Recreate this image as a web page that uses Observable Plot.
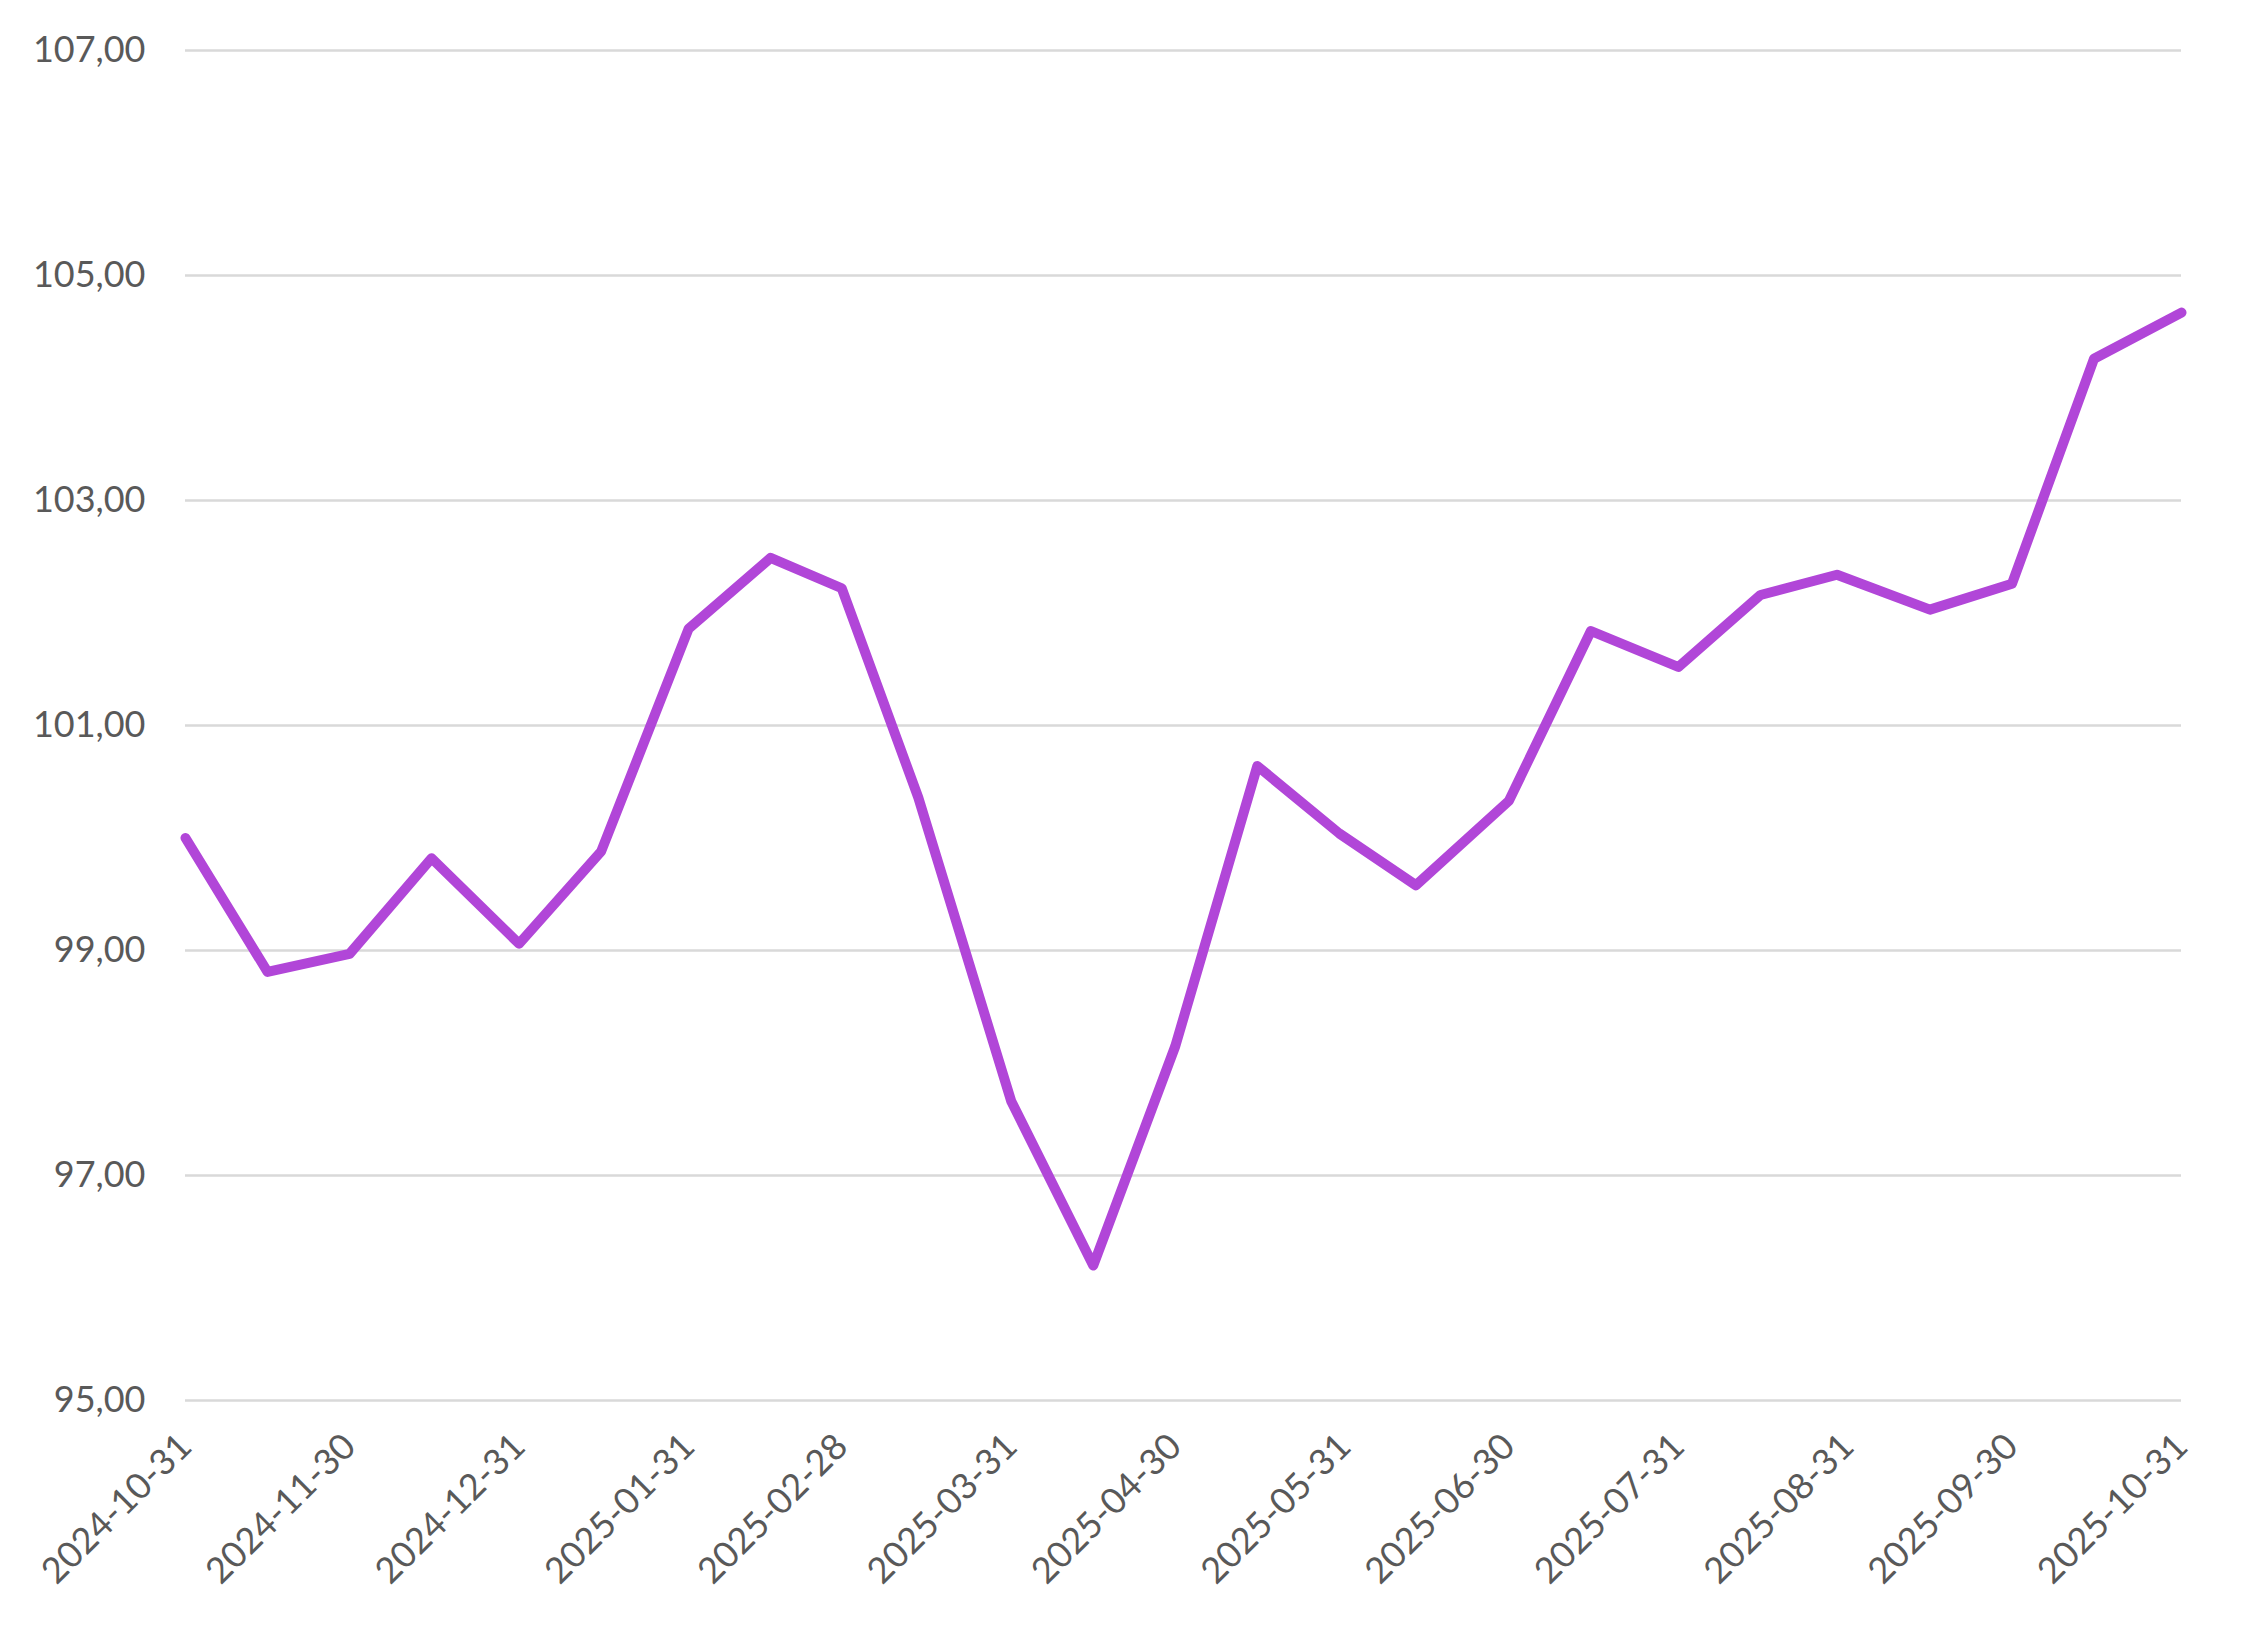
<!DOCTYPE html>
<html>
<head>
<meta charset="utf-8">
<script src="https://cdn.jsdelivr.net/npm/d3@7"></script>
<script src="https://cdn.jsdelivr.net/npm/@observablehq/plot@0.6"></script>
<style>
  html, body { margin: 0; padding: 0; background: #ffffff; }
  #chart { width: 2265px; height: 1628px; }
</style>
</head>
<body>
<div id="chart"></div>
<script>
const dates = ["2024-10-31","2024-11-15","2024-11-30","2024-12-15","2024-12-31","2025-01-15","2025-01-31","2025-02-15","2025-02-28","2025-03-14","2025-03-31","2025-04-15","2025-04-30","2025-05-15","2025-05-30","2025-06-13","2025-06-30","2025-07-15","2025-07-31","2025-08-15","2025-08-29","2025-09-15","2025-09-30","2025-10-15","2025-10-31"];
const values = [100.00, 98.81, 98.97, 99.82, 99.06, 99.88, 101.86, 102.49, 102.22, 100.36, 97.66, 96.20, 98.15, 100.64, 100.04, 99.58, 100.33, 101.84, 101.52, 102.16, 102.34, 102.03, 102.26, 104.26, 104.67];
const xTickLabels = ["2024-10-31","2024-11-30","2024-12-31","2025-01-31","2025-02-28","2025-03-31","2025-04-30","2025-05-31","2025-06-30","2025-07-31","2025-08-31","2025-09-30","2025-10-31"];
const yTicks = [95, 97, 99, 101, 103, 105, 107];

const data = dates.map((d, i) => ({date: new Date(d), value: values[i]}));
const xTicks = xTickLabels.map(d => new Date(d));
const fmtY = v => v.toFixed(2).replace(".", ",");
const fmtX = d3.utcFormat("%Y-%m-%d");

const chart = Plot.plot({
  width: 2265,
  height: 1628,
  marginTop: 50,
  marginBottom: 228,
  marginLeft: 185,
  marginRight: 84,
  style: {fontFamily: "Lato, 'Open Sans', sans-serif", fontSize: "36px", color: "#595959", background: "#ffffff"},
  x: {type: "utc", domain: [new Date(dates[0]), new Date(dates[dates.length - 1])]},
  y: {domain: [95, 107]},
  marks: [
    Plot.gridY(yTicks, {stroke: "#d9d9d9", strokeWidth: 2.5, strokeOpacity: 1}),
    Plot.axisY(yTicks, {tickSize: 0, tickPadding: 40, tickFormat: fmtY, fill: "#595959", fontSize: 36, label: null}),
    Plot.axisX(xTicks, {tickSize: 0, tickPadding: 40, tickRotate: -45, tickFormat: fmtX, fill: "#595959", fontSize: 36, label: null}),
    Plot.line(data, {x: "date", y: "value", stroke: "#b146d8", strokeWidth: 10, strokeLinejoin: "round", strokeLinecap: "round"})
  ]
});
document.getElementById("chart").appendChild(chart);
</script>
</body>
</html>
